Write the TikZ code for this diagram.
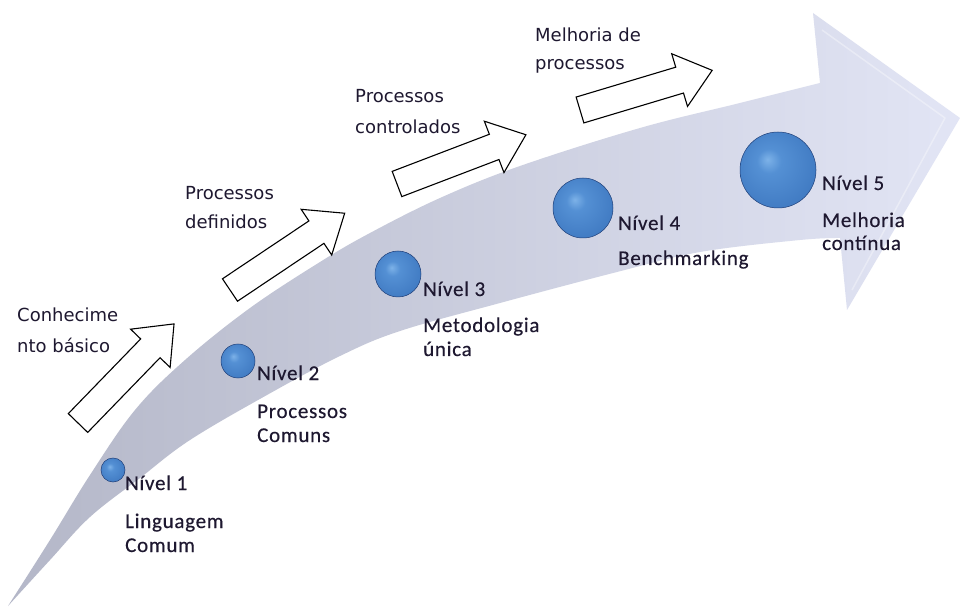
\documentclass[tikz,border=0pt]{standalone}
\usepackage{fontspec}
\setmainfont{Carlito}
\newfontfamily\notefont{DejaVu Sans}
\newfontfamily\levelfont[LetterSpace=3.5, FakeBold=0.35]{Carlito}

\definecolor{bandleft}{RGB}{180,183,200}
\definecolor{bandmid}{RGB}{206,210,231}
\definecolor{bandright}{RGB}{226,229,245}
\definecolor{inkdark}{RGB}{30,24,48}
\definecolor{beadhi}{RGB}{125,178,232}
\definecolor{beadmid}{RGB}{84,144,212}
\definecolor{beadbase}{RGB}{64,122,194}
\definecolor{beaddark}{RGB}{46,94,166}
\definecolor{beadrim}{RGB}{30,62,120}

% glossy blue bead
\pgfdeclareradialshading{bead}{\pgfpoint{-7bp}{7bp}}{%
  color(0bp)=(beadhi); color(8bp)=(beadmid); color(30bp)=(beadbase);
  color(42bp)=(beaddark); color(50bp)=(beadrim)}

\tikzset{
  bead/.style={circle, inner sep=0pt, shading=bead, draw=beadrim, line width=0.5pt},
  lvl/.style={anchor=base west, inner sep=0pt, text=inkdark,
              font=\levelfont\fontsize{21}{25}\selectfont},
  note/.style={anchor=base west, inner sep=0pt, text=inkdark,
               font=\notefont\fontsize{18}{22}\selectfont},
  stepArrow/.style={draw=black, fill=white, line width=1.1pt, line join=miter}
}

\begin{document}
\begin{tikzpicture}[x=1pt, y=1pt]
\useasboundingbox (0,0) rectangle (960,608);
\fill[white] (0,0) rectangle (960,608);

% large curved arrow
\shade[left color=bandleft, middle color=bandmid, right color=bandright]
  plot[smooth, tension=0.6] coordinates {(8,2) (50,68) (90,133) (135,198) (185,248)
       (250,300) (320,346) (370,375) (440,410) (520,442) (640,480) (740,505) (820,525)}
  -- (813,595) -- (960,490) -- (847,298) -- (840,370)
  -- plot[smooth, tension=0.6] coordinates {(840,370) (800,368) (700,356) (617,336)
       (500,305) (400,277) (340,252) (267,213) (190,168) (140,130) (90,91) (50,48) (8,2)}
  -- cycle;

% soft bevel inside the arrow head
\draw[white, opacity=0.35, line width=1.5pt, line join=round]
  (822,578) -- (945,490) -- (852,318);

% outlined step arrows
\foreach \px/\py/\ang in {78/185/45.9, 230/318/33.8, 397/424/20.9, 580/498/16.7}{
  \draw[stepArrow, shift={(\px,\py)}, rotate=\ang]
    (0,-13.5) -- (104,-13.5) -- (104,-27.5) -- (138,0) -- (104,27.5)
    -- (104,13.5) -- (0,13.5) -- cycle;
}

% level beads
\node[bead, minimum size=24pt] (b1) at (113,138) {};
\node[bead, minimum size=34pt] (b2) at (238,247) {};
\node[bead, minimum size=46pt] (b3) at (398,334) {};
\node[bead, minimum size=60pt] (b4) at (583,400) {};
\node[bead, minimum size=76pt] (b5) at (778,438) {};

% level labels
\node[lvl] (t1) at (125,118) {Nível 1};
\node[lvl] (d1a) at (125,80) {Linguagem};
\node[lvl] (d1b) at (125,56) {Comum};

\node[lvl] (t2) at (257,228) {Nível 2};
\node[lvl] (d2a) at (257,190) {Processos};
\node[lvl] (d2b) at (257,166) {Comuns};

\node[lvl] (t3) at (423,312) {Nível 3};
\node[lvl] (d3a) at (423,276) {Metodologia};
\node[lvl] (d3b) at (423,252) {única};

\node[lvl] (t4) at (618,378) {Nível 4};
\node[lvl] (d4a) at (618,343) {Benchmarking};

\node[lvl] (t5) at (822,418) {Nível 5};
\node[lvl] (d5a) at (822,381) {Melhoria};
\node[lvl] (d5b) at (822,358) {contínua};

% step captions
\node[note] (n1a) at (17,286) {Conhecime};
\node[note] (n1b) at (17,255) {nto básico};
\node[note] (n2a) at (185,408) {Processos};
\node[note] (n2b) at (185,379) {definidos};
\node[note] (n3a) at (355,505) {Processos};
\node[note] (n3b) at (355,474) {controlados};
\node[note] (n4a) at (535,566) {Melhoria de};
\node[note] (n4b) at (535,538) {processos};
\end{tikzpicture}
\end{document}
